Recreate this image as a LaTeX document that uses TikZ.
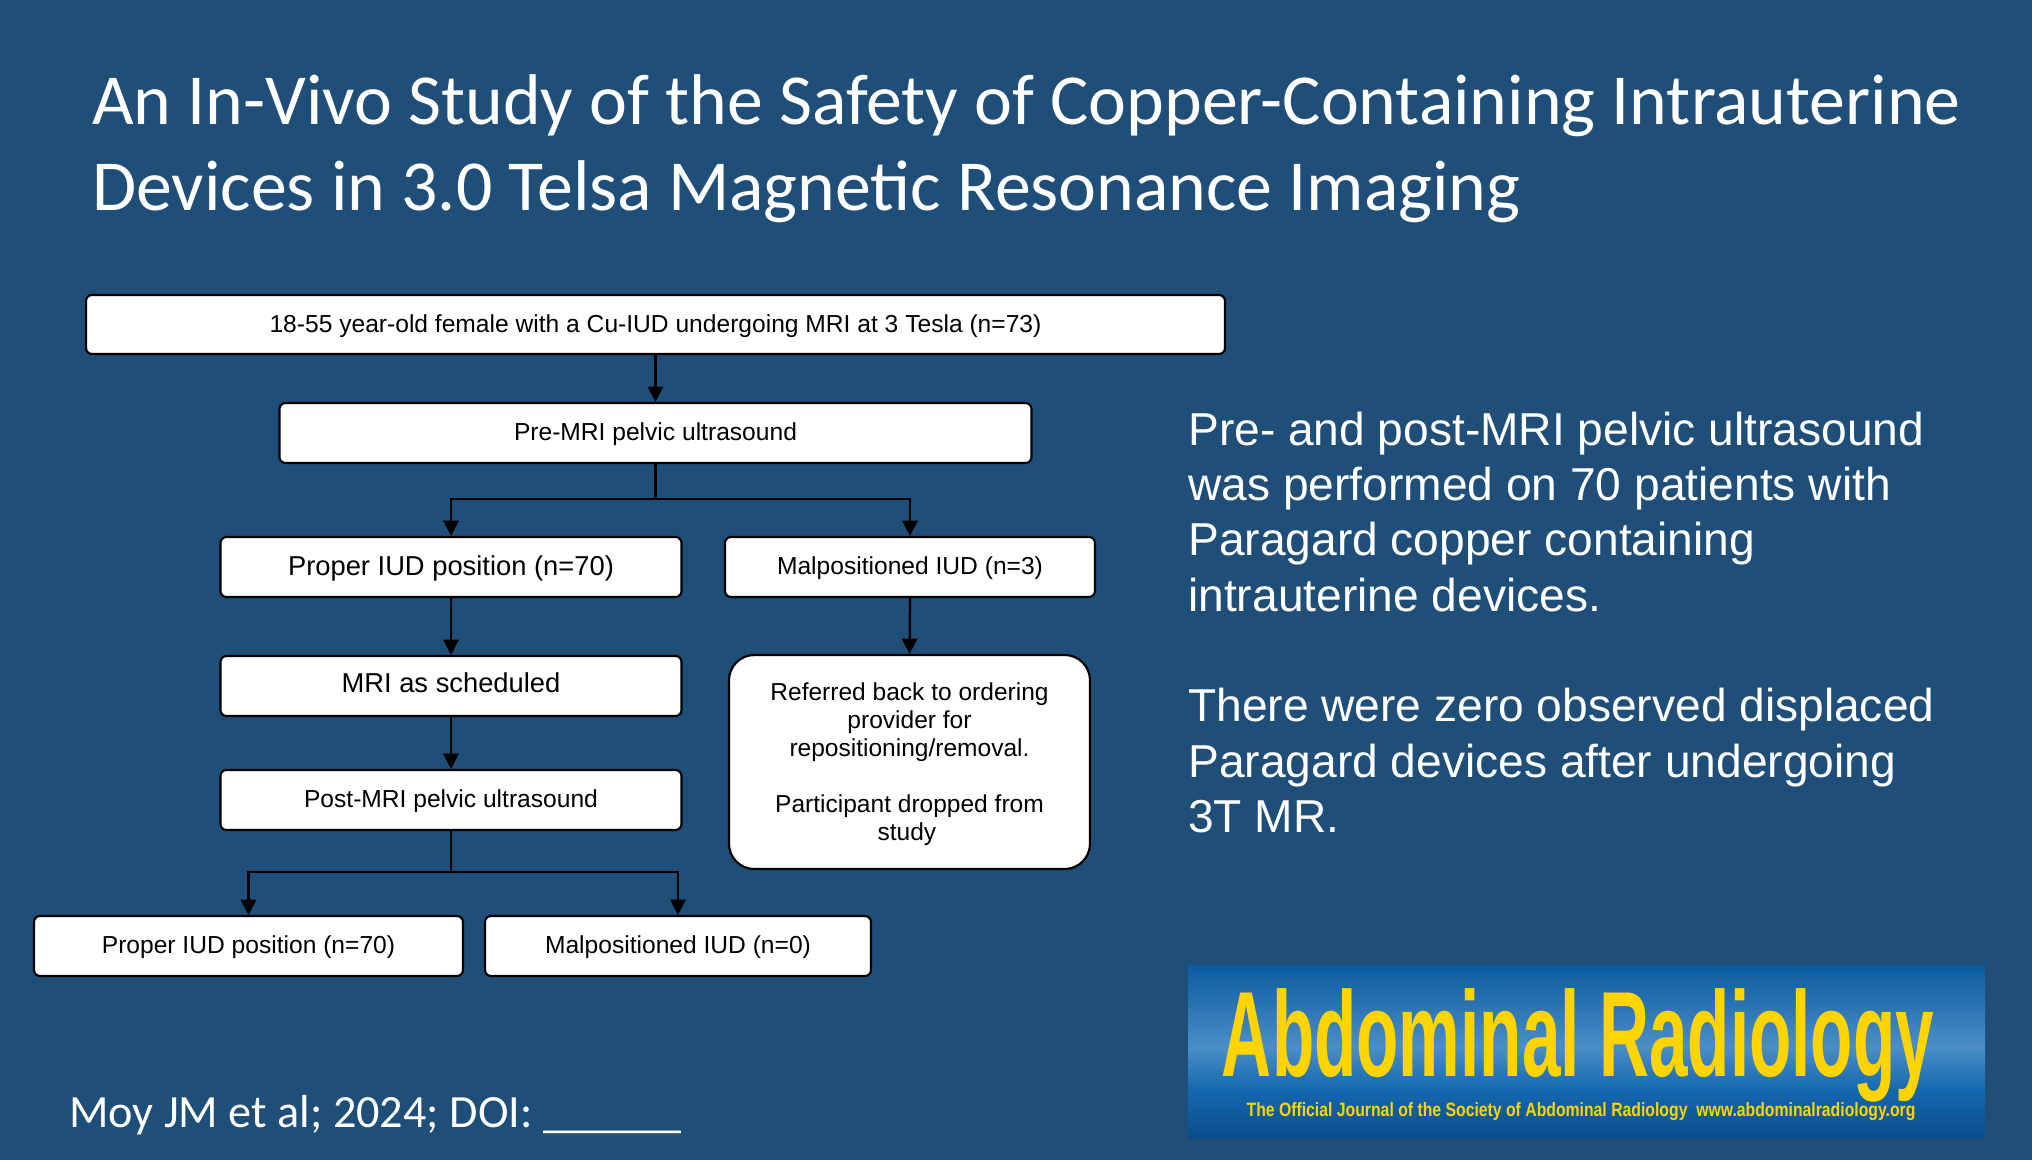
\documentclass[tikz,border=0pt]{standalone}
\usepackage{fontspec}
\setmainfont{Liberation Sans}
\newfontfamily\titlefont{Carlito}
\usetikzlibrary{arrows.meta}
\definecolor{bgblue}{HTML}{1F4E79}
\definecolor{logotop}{HTML}{0C5A9E}
\definecolor{logomid}{HTML}{4A8EC8}
\definecolor{logolow}{HTML}{1468AE}
\definecolor{logobot}{HTML}{0A4C8C}
\definecolor{logoyel}{HTML}{FFD400}
\tikzset{
  flowbox/.style={draw=black,fill=white,line width=1.6pt,rounded corners=4.5pt,inner sep=0pt,text=black,font=\fontsize{18.45}{24}\selectfont,text height=16pt,text depth=4.4pt},
  bigbox/.style={flowbox,font=\fontsize{20.5}{24}\selectfont,text depth=3.8pt},
  mribox/.style={bigbox,text depth=6pt},
  softbox/.style={draw=black,fill=white,line width=1.6pt,inner sep=0pt,text=black,align=center,rounded corners=19pt,font=\fontsize{18.4}{21}\selectfont},
  flowline/.style={draw=black,line width=1.7pt},
  flowarrow/.style={flowline,-{Triangle[length=11.5pt,width=11.5pt]}},
  titletext/.style={text=white,anchor=base west,inner sep=0pt,font=\titlefont\fontsize{53.85}{60}\selectfont},
  citetext/.style={titletext,font=\titlefont\fontsize{34.65}{40}\selectfont},
  bodytext/.style={text=white,anchor=north west,inner sep=0pt,align=left,font=\fontsize{34.6}{41.5}\selectfont},
}
\begin{document}
\begin{tikzpicture}[x=0.75pt,y=-0.75pt]
\useasboundingbox (0,0) rectangle (2032,1160);
\fill[bgblue] (0,0) rectangle (2032,1160);

\node[titletext] (t1) at (92,124) {An In-Vivo Study of the Safety of Copper-Containing Intrauterine};
\node[titletext] (t2) at (92,210) {Devices in 3.0 Telsa Magnetic Resonance Imaging};

\node[flowbox,minimum width=854.25pt,minimum height=44.25pt] (start) at (655.5,324.5) {18-55 year-old female with a Cu-IUD undergoing MRI at 3 Tesla (n=73)};
\node[flowbox,minimum width=564pt,minimum height=45pt] (pre) at (655.5,433) {Pre-MRI pelvic ultrasound};
\node[bigbox,minimum width=345.75pt,minimum height=45pt] (prop) at (451,567) {Proper IUD position (n=70)};
\node[flowbox,minimum width=277.5pt,minimum height=45pt] (mal) at (910,567) {Malpositioned IUD (n=3)};
\node[mribox,minimum width=345.75pt,minimum height=45pt] (mri) at (451,686) {MRI as scheduled};
\node[flowbox,minimum width=345.75pt,minimum height=45pt] (post) at (451,800) {Post-MRI pelvic ultrasound};
\node[flowbox,minimum width=321.75pt,minimum height=45pt] (prop2) at (248.5,946) {Proper IUD position (n=70)};
\node[flowbox,minimum width=289.5pt,minimum height=45pt] (mal2) at (678,946) {Malpositioned IUD (n=0)};
\node[softbox,minimum width=270.75pt,minimum height=160.5pt] (ref) at (909.5,762) {\rule{0pt}{17.2pt}Referred back to ordering\\provider for\\repositioning/removal.\\[21pt]Participant dropped from\\study\hspace*{4pt}};

\coordinate (j1) at (655.5,499);
\coordinate (j2) at (451,872);
\draw[flowarrow] (start.south) -- (pre.north);
\draw[flowline] (pre.south) -- (j1);
\draw[flowarrow] (j1) -| (prop.north);
\draw[flowarrow] (j1) -| (mal.north);
\draw[flowarrow] (prop.south) -- (mri.north);
\draw[flowarrow] (mal.south) -- (ref.north);
\draw[flowarrow] (mri.south) -- (post.north);
\draw[flowline] (post.south) -- (j2);
\draw[flowarrow] (j2) -| (prop2.north);
\draw[flowarrow] (j2) -| (mal2.north);

\node[bodytext] (body) at (1188,411.5) {Pre- and post-MRI pelvic ultrasound\\was performed on 70 patients with\\Paragard copper containing\\intrauterine devices.\\[41.5pt]There were zero observed displaced\\Paragard devices after undergoing\\3T MR.};

\node[citetext] (cite) at (69,1127.5) {Moy JM et al; 2024; DOI: \_\_\_\_\_\_};

\shade[top color=logotop,bottom color=logomid] (1188,965) rectangle (1985,1047);
\shade[top color=logomid,bottom color=logolow] (1188,1047) rectangle (1985,1090);
\shade[top color=logolow,bottom color=logobot] (1188,1090) rectangle (1985,1138);
\node[inner sep=0pt,anchor=base,text=logoyel,font=\bfseries\fontsize{91}{100}\selectfont,xscale=0.571] (logo) at (1578,1076) {Abdominal Radiology};
\node[inner sep=0pt,anchor=base,text=logoyel,font=\bfseries\fontsize{14.5}{16}\selectfont,xscale=0.816] (logosub) at (1581,1116) {The Official Journal of the Society of Abdominal Radiology\ \ www.abdominalradiology.org};
\end{tikzpicture}
\end{document}
